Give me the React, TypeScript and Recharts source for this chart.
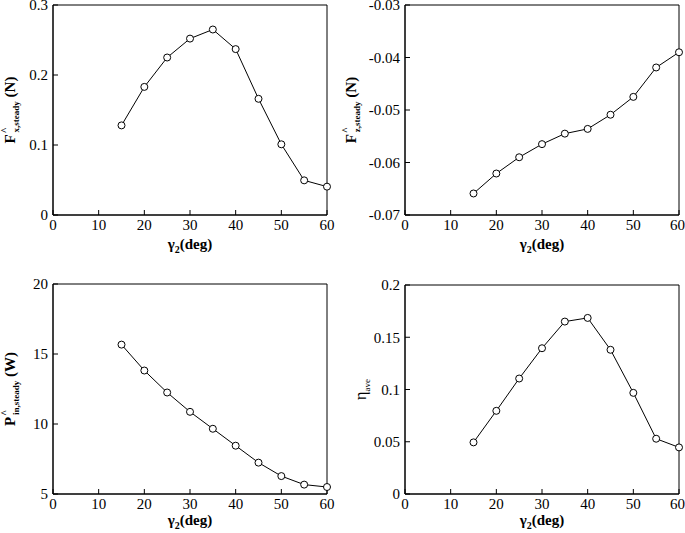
import React from 'react';
import { LineChart, Line, XAxis, YAxis, ReferenceArea, Label } from 'recharts';

const gamma = [15, 20, 25, 30, 35, 40, 45, 50, 55, 60];
const fxSteady = [0.128, 0.183, 0.225, 0.252, 0.265, 0.237, 0.166, 0.101, 0.0495, 0.0405];
const fzSteady = [-0.0659, -0.0621, -0.059, -0.0565, -0.0545, -0.0536, -0.0509, -0.0475, -0.0419, -0.039];
const pinSteady = [15.67, 13.82, 12.25, 10.87, 9.66, 8.45, 7.24, 6.28, 5.67, 5.5];
const etaAve = [0.0494, 0.0796, 0.1105, 0.1395, 0.165, 0.1685, 0.138, 0.0968, 0.0529, 0.0446];

const xTicks = [0, 10, 20, 30, 40, 50, 60];
const fxTicks = [0, 0.1, 0.2, 0.3];
const fzTicks = [-0.07, -0.06, -0.05, -0.04, -0.03];
const pinTicks = [5, 10, 15, 20];
const etaTicks = [0, 0.05, 0.1, 0.15, 0.2];

const FONT = '"Liberation Serif", "Times New Roman", serif';
const tickStyle = { fill: '#000', fontSize: 15, style: { fontFamily: FONT } };

const fmt = (v: number) => String(+v.toFixed(3));

const makeXLabel = (dy: number) => (props: any) => {
  const { x, y, width } = props.viewBox;
  return (
    <text x={x + width / 2} y={y + dy} textAnchor="middle" style={{ fontFamily: FONT }} fontWeight="bold" fontSize={15} fill="#000">
      γ<tspan fontSize={10} dy={4}>2</tspan>
      <tspan dy={-4}>(deg)</tspan>
    </text>
  );
};

const sciLabel = (main: string, sub: string, unit: string, dxOff: number) => (props: any) => {
  const { x, y, height } = props.viewBox;
  const cx = x + dxOff;
  const cy = y + height / 2;
  return (
    <text
      x={cx}
      y={cy}
      transform={`rotate(-90, ${cx}, ${cy})`}
      textAnchor="middle"
      style={{ fontFamily: FONT }}
      fontWeight="bold"
      fontSize={15}
      fill="#000"
    >
      {main}
      <tspan fontSize={10} dy={-7} dx={1}>^</tspan>
      <tspan fontSize={9} dy={11} dx={-5}>{sub}</tspan>
      <tspan dy={-4}> {unit}</tspan>
    </text>
  );
};

const etaLabel = (props: any) => {
  const { x, y, height } = props.viewBox;
  const cx = x + 26;
  const cy = y + height / 2;
  return (
    <text x={cx} y={cy} transform={`rotate(-90, ${cx}, ${cy})`} textAnchor="middle" style={{ fontFamily: FONT }} fontSize={16} fill="#000">
      η<tspan fontSize={9} dy={4}>ave</tspan>
    </text>
  );
};

interface PanelProps {
  values: number[];
  ticks: number[];
  left: number;
  top: number;
  width: number;
  height: number;
  margin: { top: number; right: number; bottom: number; left: number };
  yWidth: number;
  xLabelDy: number;
  yLabel: (props: any) => React.ReactElement;
}

function Panel({ values, ticks, left, top, width, height, margin, yWidth, xLabelDy, yLabel }: PanelProps) {
  const data = gamma.map((g, i) => ({ g, v: values[i] }));
  const yMin = ticks[0];
  const yMax = ticks[ticks.length - 1];
  return (
    <div style={{ position: 'absolute', left, top }}>
      <LineChart width={width} height={height} data={data} margin={margin}>
        <XAxis
          dataKey="g"
          type="number"
          domain={[0, 60]}
          ticks={xTicks}
          tickSize={-5}
          tickMargin={9}
          tick={tickStyle}
          axisLine={{ stroke: '#000' }}
          tickLine={{ stroke: '#000' }}
          height={30}
        >
          <Label content={makeXLabel(xLabelDy)} />
        </XAxis>
        <YAxis
          type="number"
          domain={[yMin, yMax]}
          ticks={ticks}
          tickFormatter={fmt}
          tickSize={-5}
          tickMargin={10}
          tick={tickStyle}
          axisLine={{ stroke: '#000' }}
          tickLine={{ stroke: '#000' }}
          width={yWidth}
          interval={0}
        >
          <Label content={yLabel} />
        </YAxis>
        <ReferenceArea x1={0} x2={60} y1={yMin} y2={yMax} fill="none" stroke="#000" strokeWidth={1} fillOpacity={0} />
        <Line
          dataKey="v"
          stroke="#000"
          strokeWidth={1}
          dot={{ r: 3.5, fill: '#fff', stroke: '#000', strokeWidth: 1 }}
          isAnimationActive={false}
        />
      </LineChart>
    </div>
  );
}

export default function App() {
  return (
    <div style={{ position: 'absolute', left: 0, top: 0, width: 685, height: 533, background: '#fff', fontFamily: FONT }}>
      <Panel
        values={fxSteady}
        ticks={fxTicks}
        left={0}
        top={0}
        width={340}
        height={260}
        margin={{ top: 5, right: 13, bottom: 15, left: 0 }}
        yWidth={53}
        xLabelDy={34}
        yLabel={sciLabel('F', 'x,steady', '(N)', 15)}
      />
      <Panel
        values={fzSteady}
        ticks={fzTicks}
        left={340}
        top={0}
        width={345}
        height={260}
        margin={{ top: 5, right: 6, bottom: 15, left: 0 }}
        yWidth={65}
        xLabelDy={34}
        yLabel={sciLabel('F', 'z,steady', '(N)', 16)}
      />
      <Panel
        values={pinSteady}
        ticks={pinTicks}
        left={0}
        top={260}
        width={340}
        height={273}
        margin={{ top: 24, right: 13, bottom: 9, left: 0 }}
        yWidth={53}
        xLabelDy={31}
        yLabel={sciLabel('P', 'in,steady', '(W)', 15)}
      />
      <Panel
        values={etaAve}
        ticks={etaTicks}
        left={340}
        top={260}
        width={345}
        height={273}
        margin={{ top: 25, right: 6, bottom: 9, left: 0 }}
        yWidth={65}
        xLabelDy={31}
        yLabel={etaLabel}
      />
    </div>
  );
}
